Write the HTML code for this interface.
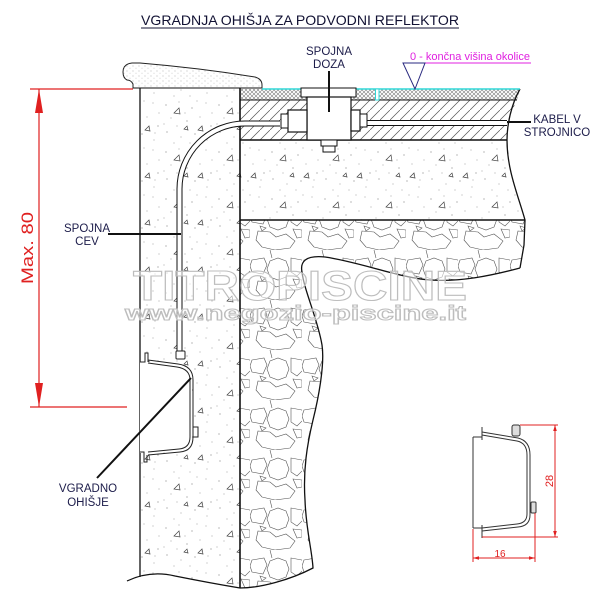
<!DOCTYPE html>
<html><head><meta charset="utf-8"><style>
html,body{margin:0;padding:0;background:#fff;}
svg{display:block;}
text{font-family:"Liberation Sans",Arial,sans-serif;}
</style></head><body>
<svg width="600" height="600" viewBox="0 0 600 600" xmlns="http://www.w3.org/2000/svg">
<defs>
 <pattern id="conc" width="53" height="47" patternUnits="userSpaceOnUse" x="3" y="5">
  <g fill="#8a8a8a">
   <circle cx="4" cy="6" r="0.6"/><circle cx="17" cy="3" r="0.5"/><circle cx="30" cy="9" r="0.6"/>
   <circle cx="44" cy="4" r="0.5"/><circle cx="9" cy="19" r="0.5"/><circle cx="25" cy="22" r="0.6"/>
   <circle cx="38" cy="18" r="0.5"/><circle cx="49" cy="27" r="0.6"/><circle cx="5" cy="33" r="0.6"/>
   <circle cx="19" cy="38" r="0.5"/><circle cx="33" cy="35" r="0.6"/><circle cx="45" cy="41" r="0.5"/>
   <circle cx="12" cy="44" r="0.5"/><circle cx="28" cy="44" r="0.5"/><circle cx="40" cy="29" r="0.5"/>
   <circle cx="2" cy="25" r="0.5"/><circle cx="15" cy="27" r="0.5"/><circle cx="50" cy="14" r="0.5"/>
   <circle cx="35" cy="2" r="0.5"/><circle cx="23" cy="14" r="0.5"/><circle cx="46" cy="34" r="0.5"/>
  </g>
  <g fill="none" stroke="#444" stroke-width="0.7">
   <path d="M12 14 l5 -5 l1 6 z"/>
   <path d="M36 31 l4 -4 l1 5 z"/>
   <path d="M22 30 l3 -3 l1 4 z"/>
  </g>
 </pattern>
 <pattern id="stip" width="6" height="5" patternUnits="userSpaceOnUse">
  <circle cx="1" cy="1" r="0.45" fill="#999"/><circle cx="4" cy="3.2" r="0.4" fill="#aaa"/>
 </pattern>
 <pattern id="xh" width="4" height="4" patternUnits="userSpaceOnUse">
  <path d="M0 4 L4 0 M0 0 L4 4" stroke="#777" stroke-width="0.55"/>
 </pattern>
 <pattern id="dh" width="10" height="10" patternUnits="userSpaceOnUse">
  <path d="M-1 11 L11 -1" stroke="#555" stroke-width="0.7"/>
 </pattern>
 <pattern id="cob" width="52" height="50" patternUnits="userSpaceOnUse" x="250" y="0">
  <g fill="none" stroke="#555" stroke-width="0.6">
   <path d="M39 19 L36 27 L28 30 L20 27 L17 19 L20 11 L28 8 L36 11 Z"/>
   <path d="M2 10 L14 8 L17 15 L13 24 L2 22 L0 16 Z"/>
   <path d="M41 8 L52 10 L54 19 L47 26 L41 22 Z"/>
   <path d="M8 31 L20 32 L26 37 L36 34 L45 41 L40 48 L25 50 L12 47 L6 40 Z"/>
   <path d="M10 26 L16 28 L12 31 Z"/>
   <path d="M43 29 L52 30 L52 37 L47 38 Z"/>
   <path d="M20 0 L22 8"/>
  </g>
 </pattern>
</defs>

<!-- Title -->
<text x="141" y="25" font-size="14" fill="#111133" textLength="318" lengthAdjust="spacingAndGlyphs">VGRADNJA OHIŠJA ZA PODVODNI REFLEKTOR</text>
<line x1="141" y1="28" x2="459" y2="28" stroke="#111133" stroke-width="1"/>

<!-- Wall concrete -->
<path d="M140 88 L240 88 L240 588 Q210 583 175 576 Q158 572 140 577 Z" fill="url(#conc)"/>
<!-- Coping -->
<path d="M133 88 L133 84 Q131 80 127 80 Q123 78 123 72 Q123 64 132 63 L140 63 Q200 68 255 77 Q262 79 262 85 L262 88 Z" fill="url(#stip)" stroke="#222" stroke-width="1"/>

<!-- Layers -->
<path d="M240 89 L520 89 C519 93 518 97 517 100 L240 100 Z" fill="url(#xh)"/>
<path d="M240 100 L517 100 C511 112 508 125 507 140 L240 140 Z" fill="url(#dh)"/>
<path d="M240 140 L507 140 C507 170 518 195 525 220 L240 220 Z" fill="url(#conc)"/>
<!-- Cobbles -->
<path d="M240 220 L525 220 L524 245 L520 268 C490 276 460 282 430 280 C400 278 360 262 325 257 C305 255 300 262 302 272 C304 290 318 320 322 345 C325 365 318 400 313 420 C307 445 303 470 305 500 C306 530 312 550 313 568 C290 580 260 588 240 588 Z" fill="url(#cob)"/>

<!-- Outlines -->
<g fill="none" stroke="#111" >
 <line x1="140" y1="88" x2="140" y2="577" stroke-width="1.3"/>
 <line x1="240" y1="88" x2="240" y2="588" stroke-width="1.6"/>
 <line x1="133" y1="88" x2="262" y2="88" stroke-width="1"/>
 <line x1="240" y1="100" x2="517" y2="100" stroke-width="0.9"/>
 <line x1="240" y1="140" x2="507" y2="140" stroke-width="1.4"/>
 <line x1="240" y1="220" x2="525" y2="220" stroke-width="1.6"/>
 <path d="M520 89 C511 105 507 125 507 140 C507 170 518 195 525 220 L524 245 L520 268" stroke-width="1.3"/>
 <path d="M520 268 C490 276 460 282 430 280 C400 278 360 262 325 257 C305 255 300 262 302 272 C304 290 318 320 322 345 C325 365 318 400 313 420 C307 445 303 470 305 500 C306 530 312 550 313 568 C290 580 260 588 240 588" stroke-width="1.3"/>
 <path d="M127 581 Q150 570 175 576 Q210 583 240 588" stroke-width="1.2"/>
</g>
<!-- cyan surface -->
<line x1="262" y1="89" x2="520" y2="89" stroke="#30d8d8" stroke-width="1.4"/>
<rect x="375.5" y="89" width="3.5" height="11" fill="#fff" stroke="#30d8d8" stroke-width="1"/>

<!-- Pipe from box to housing -->
<path d="M280 121 L245 121 A68 68 0 0 0 177 189 L177 351 L182 351 L182 189 A63 63 0 0 1 245 126 L280 126 Z" fill="#fff"/>
<path d="M280 121 L245 121 A68 68 0 0 0 177 189 L177 351 M182 351 L182 189 A63 63 0 0 1 245 126 L280 126" fill="none" stroke="#111" stroke-width="1"/>
<!-- Cable to right -->
<rect x="367" y="120.5" width="140" height="5" fill="#fff"/>
<path d="M367 120.5 L507 120.5 M367 125.5 L507 125.5" stroke="#111" stroke-width="1"/>

<!-- Junction box -->
<rect x="301" y="88" width="55" height="9" fill="#fff" stroke="#111" stroke-width="1"/>
<rect x="307" y="97" width="44" height="43" fill="#fff" stroke="#111" stroke-width="1.2"/>
<rect x="321" y="140" width="16" height="6" fill="#fff" stroke="#111" stroke-width="1"/>
<rect x="323" y="146" width="12" height="6" fill="#fff" stroke="#111" stroke-width="1"/>
<rect x="288" y="110" width="19" height="22" fill="#fff" stroke="#111" stroke-width="1.2"/>
<rect x="281" y="114" width="7" height="14" fill="#fff" stroke="#111" stroke-width="1"/>
<rect x="351" y="110" width="9" height="21" fill="#fff" stroke="#111" stroke-width="1.2"/>
<rect x="360" y="114" width="7" height="13" fill="#fff" stroke="#111" stroke-width="1"/>

<!-- Housing in wall -->
<path d="M140 362 L148 362 L178 366 Q191 368 192 380 L192 437 Q191 449 180 450 L148 453 L140 453 Z" fill="#fff"/>
<g fill="none" stroke="#222" stroke-width="1">
 <path d="M148 360 L178 364 Q193 366 193 380 L193 437 Q193 451 180 452 L148 455"/>
 <path d="M148 363 L177 367 Q190 369 190 380 L190 437 Q190 448 179 449 L148 452"/>
 <path d="M140 362 L145 362 L145 353 L148 353 L148 362"/>
 <path d="M140 452 L144 452 L144 462 L147 462 L147 455"/>
</g>
<rect x="176" y="351" width="9" height="8" rx="1" fill="#fff" stroke="#222" stroke-width="1"/>
<rect x="193" y="427" width="5" height="10" fill="#fff" stroke="#222" stroke-width="1"/>

<!-- Watermark -->
<text x="133" y="300" font-size="42" font-weight="bold" fill="rgba(255,255,255,0.55)" stroke="#bdbdbd" stroke-width="1.1" textLength="334" lengthAdjust="spacingAndGlyphs">TITROPISCINE</text>
<text x="125" y="320" font-size="20" font-weight="bold" fill="rgba(255,255,255,0.55)" stroke="#bdbdbd" stroke-width="1" textLength="341" lengthAdjust="spacingAndGlyphs">www.negozio-piscine.it</text>

<!-- Leaders and labels -->
<g stroke="#111" stroke-width="2">
 <line x1="329" y1="71" x2="329" y2="112"/>
 <line x1="108" y1="234" x2="181" y2="234"/>
 <line x1="507" y1="122" x2="531" y2="122"/>
 <line x1="191" y1="378" x2="97" y2="478"/>
</g>
<g fill="#1c1c4a" font-size="11.5" text-anchor="middle">
 <text x="329" y="55">SPOJNA</text>
 <text x="329" y="68">DOZA</text>
 <text x="87" y="232">SPOJNA</text>
 <text x="87" y="245">CEV</text>
 <text x="88" y="492">VGRADNO</text>
 <text x="88" y="506">OHIŠJE</text>
 <text x="557" y="123">KABEL V</text>
 <text x="557" y="136">STROJNICO</text>
</g>

<!-- level marker -->
<text x="410" y="60" font-size="11" fill="#e020e0" textLength="120" lengthAdjust="spacingAndGlyphs">0 - končna višina okolice</text>
<line x1="403" y1="63" x2="531" y2="63" stroke="#e020e0" stroke-width="1"/>
<path d="M403 63 L425 63 L415 89 Z" fill="none" stroke="#2a2a80" stroke-width="1"/>

<!-- Left dimension -->
<g stroke="#e02020" stroke-width="1.2" fill="none">
 <line x1="30" y1="89" x2="133" y2="89"/>
 <line x1="30" y1="407" x2="127" y2="407"/>
 <line x1="39" y1="89" x2="39" y2="407"/>
</g>
<path d="M39 89 L35 113 L43 113 Z" fill="#e02020"/>
<path d="M39 407 L35 383 L43 383 Z" fill="#e02020"/>
<text transform="translate(33,248) rotate(-90)" font-size="17" fill="#e02020" text-anchor="middle" textLength="72" lengthAdjust="spacingAndGlyphs">Max. 80</text>

<!-- Right detail -->
<g fill="none" stroke="#333" stroke-width="1">
 <line x1="473" y1="437" x2="473" y2="528"/>
 <path d="M473 437 L482 437 M482 427 L482 440"/>
 <path d="M482 432 L518 438 Q530 441 530 455 L530 515 Q530 526 518 527 L482 531"/>
 <path d="M482 435 L517 441 Q527 443 527 455 L527 514 Q527 523 517 524 L482 528"/>
 <path d="M473 528 L482 528 M482 525 L482 538"/>
</g>
<rect x="512" y="425" width="8" height="11" rx="2" fill="#ddd" stroke="#333" stroke-width="1"/>
<rect x="531" y="502" width="5" height="11" rx="1" fill="#ddd" stroke="#333" stroke-width="1"/>
<g stroke="#e02020" stroke-width="1" fill="none">
 <line x1="520" y1="425" x2="558" y2="425"/>
 <line x1="482" y1="537" x2="558" y2="537"/>
 <line x1="555" y1="425" x2="555" y2="537"/>
 <line x1="473" y1="529" x2="473" y2="562"/>
 <line x1="535" y1="513" x2="535" y2="562"/>
 <line x1="473" y1="558" x2="535" y2="558"/>
</g>
<g fill="#e02020">
 <path d="M473 558 l6 -1.8 l0 3.6 z"/><path d="M535 558 l-6 -1.8 l0 3.6 z"/>
 <path d="M555 425 l-1.8 6 l3.6 0 z"/><path d="M555 537 l-1.8 -6 l3.6 0 z"/>
</g>
<text transform="translate(553,481) rotate(-90)" font-size="11" fill="#e02020" text-anchor="middle">28</text>
<text x="500" y="557" font-size="10" fill="#e02020" text-anchor="middle">16</text>
</svg>
</body></html>
